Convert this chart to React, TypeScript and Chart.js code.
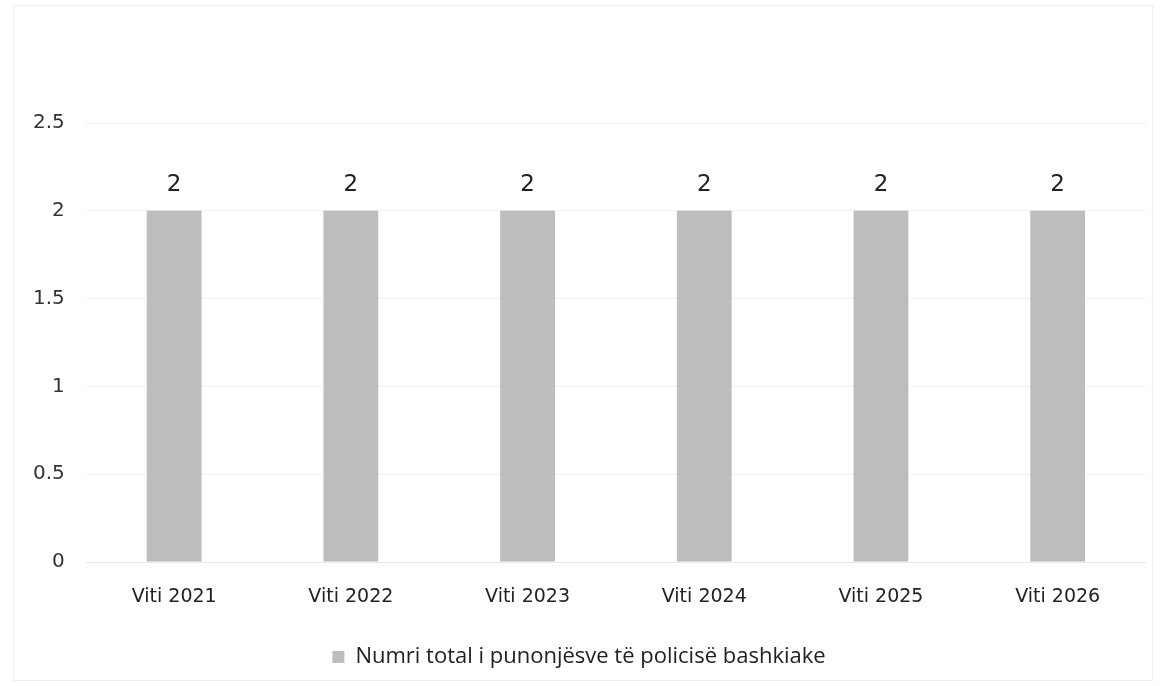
import React, { useEffect, useRef } from "react";
import { Chart, registerables } from "chart.js";

Chart.register(...registerables);

const categories = ["Viti 2021", "Viti 2022", "Viti 2023", "Viti 2024", "Viti 2025", "Viti 2026"];
const seriesName = "Numri total i punonjësve të policisë bashkiake";
const seriesValues = [2, 2, 2, 2, 2, 2];
const yTicks = [0, 0.5, 1, 1.5, 2, 2.5];

const FONT = "'DejaVu Sans', sans-serif";

const valueLabels = {
  id: "valueLabels",
  afterDatasetsDraw(chart: any) {
    const { ctx } = chart;
    const meta = chart.getDatasetMeta(0);
    ctx.save();
    ctx.font = `23px ${FONT}`;
    ctx.fillStyle = "#222";
    ctx.textAlign = "center";
    ctx.textBaseline = "middle";
    meta.data.forEach((el: any, i: number) => {
      ctx.fillText(String(chart.data.datasets[0].data[i]), el.x, el.y - 26);
    });
    ctx.restore();
  },
};

export default function App() {
  const ref = useRef<HTMLCanvasElement>(null);
  useEffect(() => {
    document.body.style.margin = "0";
    const chart = new Chart(ref.current!, {
      type: "bar",
      data: {
        labels: categories,
        datasets: [
          {
            label: seriesName,
            data: seriesValues,
            backgroundColor: "#bdbdbd",
            categoryPercentage: 1,
            barPercentage: 0.31,
          },
        ],
      },
      options: {
        responsive: false,
        maintainAspectRatio: false,
        animation: false,
        layout: { padding: { top: 123, left: 12, right: 14, bottom: 8 } },
        scales: {
          x: {
            grid: { display: false },
            border: { color: "#e8e8e8" },
            ticks: { color: "#222", font: { family: FONT, size: 19 }, padding: 16 },
            afterFit(scale: any) {
              scale.height = 74;
            },
          },
          y: {
            min: 0,
            max: 2.5,
            afterBuildTicks(scale: any) {
              scale.ticks = yTicks.map((v) => ({ value: v }));
            },
            grid: { color: "#f0f0f0", drawTicks: false },
            border: { display: false },
            ticks: {
              color: "#333",
              font: { family: FONT, size: 20 },
              padding: 21,
              callback: (v: any) => String(v),
            },
          },
        },
        plugins: {
          legend: {
            position: "bottom",
            labels: {
              color: "#222",
              font: { family: "'Open Sans', sans-serif", size: 22 },
              boxWidth: 12,
              boxHeight: 12,
              padding: 10,
            },
          },
          tooltip: { enabled: false },
        },
      },
      plugins: [valueLabels],
    });
    return () => chart.destroy();
  }, []);
  return (
    <div style={{ position: "absolute", left: 0, top: 0, width: 1160, height: 686, background: "#fff" }}>
      <div style={{ position: "absolute", left: 13, top: 5, width: 1140, height: 676, border: "1px solid #ededed", boxSizing: "border-box" }} />
      <canvas ref={ref} width={1160} height={686} style={{ position: "absolute", left: 0, top: 0 }} />
    </div>
  );
}
